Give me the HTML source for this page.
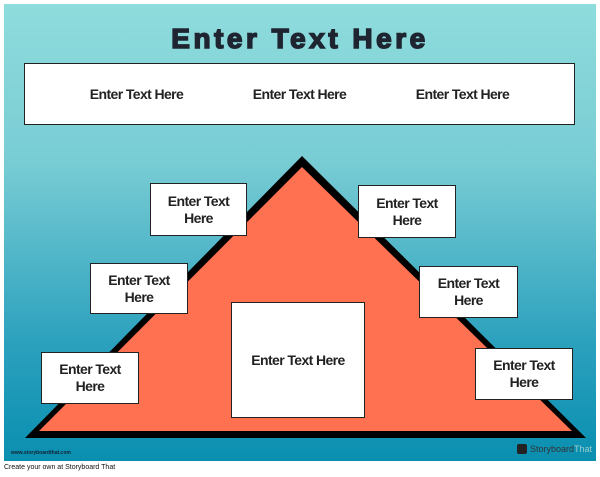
<!DOCTYPE html>
<html><head><style>
body{margin:0;width:600px;height:477px;background:#fff;position:relative;overflow:hidden;font-family:"Liberation Sans",sans-serif}
#c{position:absolute;left:4px;top:4px;width:592px;height:457px;background:linear-gradient(#8fdcdc 0%,#78ccd4 35%,#2aa0bd 75%,#0a8fb0 100%)}
.b{position:absolute;background:#fff;border:1.5px solid #222;box-sizing:border-box;display:flex;align-items:center;justify-content:center;text-align:center;font-weight:bold;font-size:14px;color:#222;line-height:17px;letter-spacing:-0.6px}
</style></head><body>
<div id="c"></div>
<svg style="position:absolute;left:0;top:0" width="600" height="477">
<polygon points="302,156 25,438 586,438" fill="#000"/>
<polygon points="302,167 39,431 572,431" fill="#ff7150"/>
</svg>
<div style="position:absolute;left:0;width:600px;top:23px;text-align:center;font-weight:900;font-size:28px;color:#1e2430;letter-spacing:3.5px;-webkit-text-stroke:1.5px #1e2430">Enter Text Here</div>
<div class="b" style="left:24px;top:63px;width:551px;height:62px;justify-content:space-around;padding:0 30px">
<span>Enter Text Here</span><span>Enter Text Here</span><span>Enter Text Here</span></div>
<div class="b" style="left:150px;top:183px;width:97px;height:53px">Enter Text<br>Here</div>
<div class="b" style="left:358px;top:185px;width:98px;height:53px">Enter Text<br>Here</div>
<div class="b" style="left:90px;top:263px;width:98px;height:51px">Enter Text<br>Here</div>
<div class="b" style="left:419px;top:266px;width:99px;height:52px">Enter Text<br>Here</div>
<div class="b" style="left:41px;top:352px;width:98px;height:52px">Enter Text<br>Here</div>
<div class="b" style="left:475px;top:348px;width:98px;height:52px">Enter Text<br>Here</div>
<div class="b" style="left:231px;top:302px;width:134px;height:116px">Enter Text Here</div>
<div style="position:absolute;left:11px;top:450px;font-size:5px;color:#123;font-weight:bold">www.storyboardthat.com</div>
<div style="position:absolute;left:517px;top:444px;width:10px;height:10px;background:#222;border-radius:2px"></div>
<div style="position:absolute;left:530px;top:444px;font-size:9px;color:#333">Storyboard<span style="color:#9cc">That</span></div>
<div style="position:absolute;left:4px;top:464px;font-size:7px;color:#111">Create your own at Storyboard That</div>
</body></html>
